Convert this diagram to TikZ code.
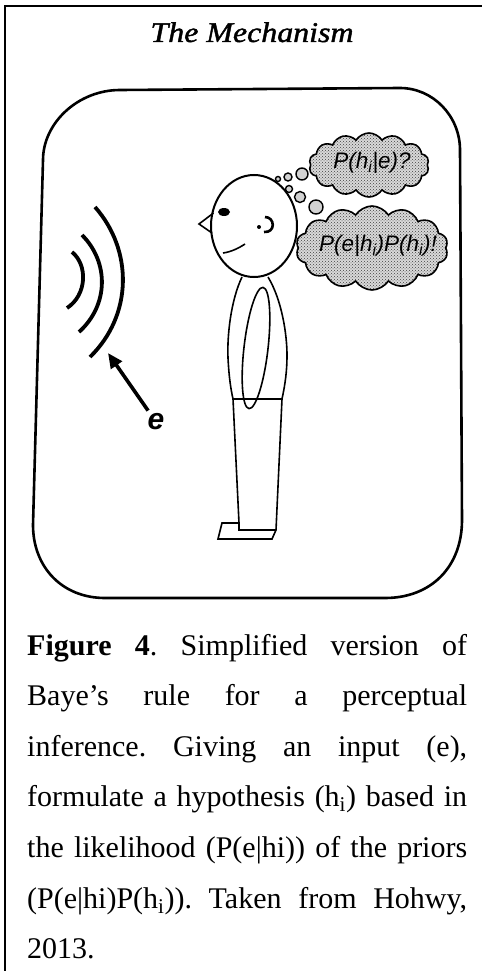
\documentclass[tikz,border=0pt]{standalone}
\usepackage{fontspec}
\setmainfont{Liberation Serif}
\newfontfamily\headfont[FakeStretch=1.12,FakeBold=1.5]{Liberation Serif}
\newfontfamily\bubblefont{Liberation Sans}
\usetikzlibrary{arrows.meta,shapes.symbols,patterns}
% one justified caption line of fixed width
\newcommand\capline[1]{\makebox[440pt][s]{#1}}

\begin{document}
\frenchspacing
\begin{tikzpicture}[x=1pt,y=-1pt,
  frameline/.style={line width=2pt},
  panel/.style={line width=2.6pt},
  wave/.style={line width=3.8pt},
  body/.style={line width=1.6pt},
  puff/.style={draw, line width=1.4pt, fill=gray!35},
  thought/.style={cloud, cloud puffs=14, cloud puff arc=115, cloud ignores aspect,
    draw, line width=1.6pt, inner sep=0pt, preaction={fill=gray!30},
    pattern=crosshatch dots, pattern color=black!75},
  thoughttext/.style={inner sep=0pt, font=\bubblefont\itshape\fontsize{22.5}{26}\selectfont},
  captionline/.style={anchor=base west, inner sep=0pt, font=\fontsize{30}{36}\selectfont},
]
\useasboundingbox (0,0) rectangle (482,971);

% page frame (top and left rules)
\draw[frameline] (5,971) -- (5,6.5) -- (482,6.5);

% title
\node[anchor=base, inner sep=0pt, font=\headfont\itshape\fontsize{28.5}{32}\selectfont] (title) at (252,42) {The Mechanism};

% rounded panel
\draw[panel] (43,160) .. controls (43,123) and (78,90) .. (120,90)
  -- (400,88) .. controls (433,88) and (460,116) .. (460,150)
  -- (462,520) .. controls (462,567) and (431,598) .. (385,598)
  -- (105,598) .. controls (62,598) and (33,567) .. (33,525) -- cycle;

% sound waves
\draw[wave] (72,252) .. controls (88,265) and (87,295) .. (67,308);
\draw[wave] (82,235) .. controls (109,262) and (109,305) .. (79,332);
\draw[wave] (95,207) .. controls (133,250) and (133,315) .. (90,357);

% input arrow and its label
\node[inner sep=3pt, font=\bubblefont\bfseries\itshape\fontsize{30}{34}\selectfont] (e) at (156,422) {e};
\coordinate (etip) at (108,353);
\draw[-{Triangle[length=15pt,width=13pt]}, line width=3.6pt] (e) -- (etip);

% head
\draw[line width=2pt] (254,226) ellipse[x radius=43, y radius=51];
\draw[body] (213.5,213) -- (199,224) -- (212,233);
\fill (224,212) ellipse[x radius=6, y radius=4];
\draw[body] (223,253) .. controls (231,252) and (239,248) .. (245,244);
\draw[line width=2.6pt] (265,217) .. controls (275,217) and (276,233) .. (264,232);
\fill (259,227) circle[radius=2];

% torso, arm and legs
\draw[body] (242,277) .. controls (231,300) and (227,335) .. (228,358)
  .. controls (229,378) and (231,390) .. (233,399) -- (282,399)
  .. controls (285,385) and (287,372) .. (287,355)
  .. controls (287,335) and (282,300) .. (268,277);
\draw[body, rotate around={-6.6:(256,348)}] (256,348) ellipse[x radius=12, y radius=61];
\draw[body] (233,399) -- (239,523) -- (222,523) -- (218,539) -- (272,539) -- (276,530) -- (282,399);
\draw[body] (239,523) -- (239,530) -- (276,530);

% thought bubbles
\draw[puff] (278,179) circle[radius=2.5];
\draw[puff] (288,177) circle[radius=4];
\draw[puff] (302,174) circle[radius=6];
\draw[puff] (289,189) circle[radius=3.5];
\draw[puff] (300,197) circle[radius=5.5];
\draw[puff] (316,207) circle[radius=7];

\node[thought, minimum width=120pt, minimum height=64pt] (query) at (369,165) {};
\node[thoughttext] (querytext) at (372,163) {P(h\textsubscript{i}|e)?};
\node[thought, minimum width=152pt, minimum height=84pt] (answer) at (372,248) {};
\node[thoughttext] (answertext) at (378,246) {P(e|h\textsubscript{i})P(h\textsubscript{i})!};

% caption
\node[captionline] (cap1) at (27,655) {\capline{\textbf{Figure 4}. Simplified version of}};
\node[captionline] (cap2) at (27,705) {\capline{Baye’s rule for a perceptual}};
\node[captionline] (cap3) at (27,756) {\capline{inference. Giving an input (e),}};
\node[captionline] (cap4) at (27,806) {\capline{formulate a hypothesis (h\textsubscript{i}) based in}};
\node[captionline] (cap5) at (27,857) {\capline{the likelihood (P(e|hi)) of the priors}};
\node[captionline] (cap6) at (27,908) {\capline{(P(e|hi)P(h\textsubscript{i})). Taken from Hohwy,}};
\node[captionline] (cap7) at (27,958) {2013.};
\end{tikzpicture}
\end{document}
